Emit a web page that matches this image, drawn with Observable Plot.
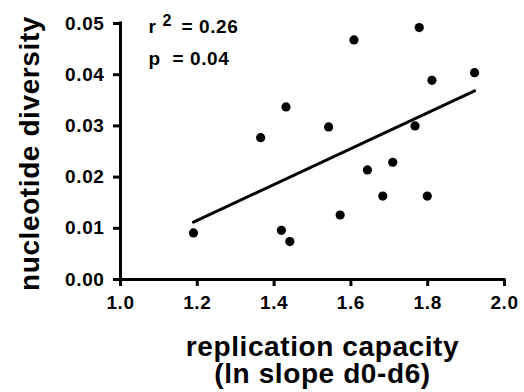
<!DOCTYPE html>
<html>
<head>
<meta charset="utf-8">
<script src="https://cdn.jsdelivr.net/npm/d3@7"></script>
<script src="https://cdn.jsdelivr.net/npm/@observablehq/plot@0.6"></script>
<style>
  html, body { margin: 0; padding: 0; background: white; }
  svg text { letter-spacing: 0.6px; }
</style>
</head>
<body>
<div id="chart"></div>
<script>
const xTicks = [1.0, 1.2, 1.4, 1.6, 1.8, 2.0];
const yTicks = [0.00, 0.01, 0.02, 0.03, 0.04, 0.05];
const capacity  = [1.190, 1.365, 1.419, 1.431, 1.441, 1.542, 1.572, 1.608, 1.643, 1.683, 1.709, 1.767, 1.778, 1.799, 1.811, 1.922];
const diversity = [0.0091, 0.0277, 0.0096, 0.0337, 0.0074, 0.0298, 0.0126, 0.0468, 0.0214, 0.0163, 0.0229, 0.0300, 0.0492, 0.0163, 0.0389, 0.0404];
const xTitle = "replication capacity\n(ln slope d0-d6)";
const yTitle = "nucleotide diversity";
const rLabel = ["r", "2", "= 0.26"];
const pLabel = ["p", "= 0.04"];

const data = capacity.map((x, i) => ({x, y: diversity[i]}));

const chart = Plot.plot({
  width: 524,
  height: 392,
  marginLeft: 120,
  marginRight: 20,
  marginTop: 23,
  marginBottom: 113,
  x: {domain: [xTicks[0], xTicks[xTicks.length - 1]]},
  y: {domain: [yTicks[0], yTicks[yTicks.length - 1]]},
  style: {fontFamily: "'Liberation Sans', Arial, sans-serif", fontWeight: "bold", fontSize: "19px", color: "black", background: "white"},
  marks: [
    Plot.axisX(xTicks, {tickFormat: d3.format(".1f"), tickSize: 7, tickPadding: 9, strokeWidth: 3, label: null, fontSize: 19}),
    Plot.axisY(yTicks, {tickFormat: d3.format(".2f"), tickSize: 7, tickPadding: 9, strokeWidth: 3, label: null, fontSize: 19}),
    Plot.ruleX([xTicks[0]], {y1: yTicks[0], y2: yTicks[yTicks.length - 1], strokeWidth: 3, strokeLinecap: "square"}),
    Plot.ruleY([yTicks[0]], {x1: xTicks[0], x2: xTicks[xTicks.length - 1], strokeWidth: 3, strokeLinecap: "square"}),
    Plot.linearRegressionY(data, {x: "x", y: "y", ci: 0, stroke: "black", strokeWidth: 3}),
    Plot.dot(data, {x: "x", y: "y", r: 4.6, fill: "black", stroke: "none"}),
    Plot.text([yTitle], {text: d => d, frameAnchor: "left", rotate: -90, textAnchor: "middle", lineAnchor: "bottom", dx: -82, dy: 2, fontSize: 28, fontWeight: "bold"}),
    Plot.text([xTitle], {text: d => d, frameAnchor: "bottom", textAnchor: "middle", lineAnchor: "bottom", dx: 10, dy: 103, fontSize: 28, lineHeight: 0.96, fontWeight: "bold"}),
    Plot.text([rLabel[0]], {text: d => d, frameAnchor: "top-left", textAnchor: "start", lineAnchor: "bottom", dx: 28, dy: 9.5, fontSize: 19}),
    Plot.text([rLabel[1]], {text: d => d, frameAnchor: "top-left", textAnchor: "start", lineAnchor: "bottom", dx: 42, dy: 2.3, fontSize: 16}),
    Plot.text([rLabel[2]], {text: d => d, frameAnchor: "top-left", textAnchor: "start", lineAnchor: "bottom", dx: 61, dy: 9.5, fontSize: 19}),
    Plot.text([pLabel[0]], {text: d => d, frameAnchor: "top-left", textAnchor: "start", lineAnchor: "bottom", dx: 28, dy: 41.3, fontSize: 19}),
    Plot.text([pLabel[1]], {text: d => d, frameAnchor: "top-left", textAnchor: "start", lineAnchor: "bottom", dx: 52, dy: 41.3, fontSize: 19})
  ]
});
document.getElementById("chart").appendChild(chart);
</script>
</body>
</html>
